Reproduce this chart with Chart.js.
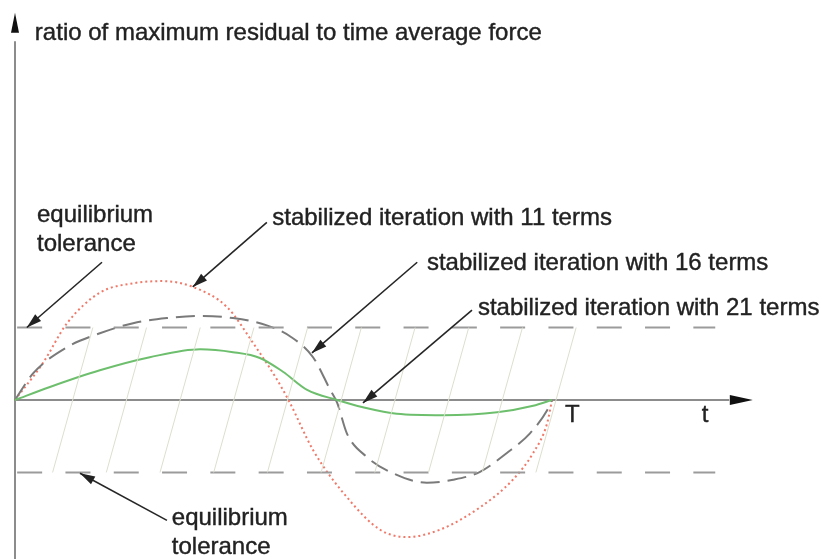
<!DOCTYPE html>
<html>
<head>
<meta charset="utf-8">
<script src="https://cdn.jsdelivr.net/npm/chart.js@4/dist/chart.umd.min.js"></script>
<style>
  html, body { margin: 0; padding: 0; background: #fff; }
  #chart { display: block; }
</style>
</head>
<body>
<canvas id="chart" width="822" height="559"></canvas>
<script>
// time in units of T, residual ratio in units of the equilibrium tolerance
const terms11X = [0, 0.052, 0.097, 0.158, 0.220, 0.276, 0.331, 0.395, 0.443, 0.488, 0.512, 0.555, 0.618, 0.680, 0.730, 0.791, 0.866, 0.927, 0.965, 0.991, 1.0];
const terms11Y = [0, 0.51, 1.06, 1.48, 1.61, 1.64, 1.56, 1.28, 0.79, 0.28, -0.04, -0.69, -1.34, -1.79, -1.89, -1.79, -1.48, -1.10, -0.73, -0.32, 0];

const terms16X = [0, 0.034, 0.097, 0.158, 0.220, 0.283, 0.345, 0.406, 0.469, 0.512, 0.555, 0.587, 0.600, 0.618, 0.656, 0.698, 0.767, 0.816, 0.866, 0.916, 0.959, 0.991, 1.0];
const terms16Y = [0, 0.37, 0.73, 0.92, 1.06, 1.13, 1.16, 1.13, 1.03, 0.88, 0.59, 0.14, -0.04, -0.46, -0.79, -0.99, -1.14, -1.10, -0.99, -0.73, -0.46, -0.14, 0];

const terms21X = [0, 0.065, 0.158, 0.251, 0.345, 0.406, 0.456, 0.499, 0.544, 0.600, 0.648, 0.711, 0.797, 0.898, 0.965, 1.0];
const terms21Y = [0, 0.18, 0.41, 0.59, 0.70, 0.66, 0.58, 0.39, 0.14, 0, -0.10, -0.19, -0.21, -0.17, -0.08, 0];

const tolerance = 1;
const toleranceEnd = 1.304;
const hatchX = [0.07, 0.17, 0.27, 0.37, 0.47, 0.57, 0.67, 0.77, 0.87, 0.97];
const hatchSlant = 0.075;

const titleLabel = 'ratio of maximum residual to time average force';
const seriesLabels = ['stabilized iteration with 11 terms', 'stabilized iteration with 16 terms', 'stabilized iteration with 21 terms'];
const toleranceLabel = ['equilibrium', 'tolerance'];
const axisLabels = ['T', 't'];

function toPoints(xs, ys) {
    return xs.map((x, i) => ({ x: x, y: ys[i] }));
}

const datasets = [];

// hatching inside the tolerance band
hatchX.forEach(function (x) {
    datasets.push({
        data: [{ x: x, y: -tolerance }, { x: x + hatchSlant, y: tolerance }],
        borderColor: '#dcdfcd',
        borderWidth: 1,
        pointRadius: 0,
        tension: 0
    });
});

[tolerance, -tolerance].forEach(function (y) {
    datasets.push({
        data: [{ x: 0.004, y: y }, { x: toleranceEnd, y: y }],
        borderColor: '#9b9b9b',
        borderWidth: 2,
        borderDash: [25, 23.3],
        pointRadius: 0,
        tension: 0
    });
});

datasets.push({
    label: seriesLabels[2],
    data: toPoints(terms21X, terms21Y),
    borderColor: '#6dbf6d',
    borderWidth: 2,
    pointRadius: 0,
    cubicInterpolationMode: 'monotone'
});
datasets.push({
    label: seriesLabels[1],
    data: toPoints(terms16X, terms16Y),
    borderColor: '#7a7a7a',
    borderWidth: 2,
    borderDash: [19, 8],
    pointRadius: 0,
    cubicInterpolationMode: 'monotone'
});
datasets.push({
    label: seriesLabels[0],
    data: toPoints(terms11X, terms11Y),
    borderColor: '#f07a6a',
    borderWidth: 2,
    borderDash: [2, 3],
    pointRadius: 0,
    cubicInterpolationMode: 'monotone'
});

function arrowHead(ctx, x1, y1, x2, y2, len, half) {
    const a = Math.atan2(y2 - y1, x2 - x1);
    ctx.beginPath();
    ctx.moveTo(x2, y2);
    ctx.lineTo(x2 - len * Math.cos(a) + half * Math.sin(a), y2 - len * Math.sin(a) - half * Math.cos(a));
    ctx.lineTo(x2 - len * Math.cos(a) - half * Math.sin(a), y2 - len * Math.sin(a) + half * Math.cos(a));
    ctx.closePath();
    ctx.fill();
}

// annotation arrows: [from x, from y, to x, to y] in data units
const notes = [
    { text: toleranceLabel, at: [0.041, 2.45], from: [0.162, 1.90], to: [0.022, 1.0] },
    { text: [seriesLabels[0]], at: [0.479, 2.42], from: [0.469, 2.45], to: [0.331, 1.56] },
    { text: [seriesLabels[1]], at: [0.767, 1.79], from: [0.749, 1.90], to: [0.553, 0.65] },
    { text: [seriesLabels[2]], at: [0.862, 1.17], from: [0.851, 1.24], to: [0.648, -0.04] },
    { text: toleranceLabel, at: [0.292, -1.73], from: [0.283, -1.66], to: [0.121, -1.01] }
];

const drawPlugin = {
    id: 'sketch',
    beforeDatasetsDraw(chart) {
        const ctx = chart.ctx;
        const xs = chart.scales.x, ys = chart.scales.y;
        const x0 = xs.getPixelForValue(0), y0 = ys.getPixelForValue(0);
        ctx.save();
        ctx.strokeStyle = '#8c8c8c';
        ctx.lineWidth = 2;
        ctx.beginPath();
        ctx.moveTo(x0, ys.getPixelForValue(ys.min));
        ctx.lineTo(x0, ys.getPixelForValue(4.95));
        ctx.moveTo(x0, y0);
        ctx.lineTo(xs.getPixelForValue(1.33), y0);
        ctx.stroke();
        ctx.fillStyle = '#111';
        arrowHead(ctx, x0, y0, xs.getPixelForValue(1.374), y0, 23, 5);
        arrowHead(ctx, x0, y0, x0, ys.getPixelForValue(5.34), 20, 4);
        ctx.restore();
    },
    afterDatasetsDraw(chart) {
        const ctx = chart.ctx;
        const xs = chart.scales.x, ys = chart.scales.y;
        const px = v => xs.getPixelForValue(v), py = v => ys.getPixelForValue(v);
        ctx.save();
        ctx.font = '24px "Liberation Sans", Arial, sans-serif';
        ctx.fillStyle = '#222';
        ctx.strokeStyle = '#222';
        ctx.lineWidth = 0.4;
        ctx.textBaseline = 'alphabetic';
        ctx.textAlign = 'left';
        const label = function (s, x, y) {
            ctx.fillText(s, x, y);
            ctx.strokeText(s, x, y);
        };
        label(titleLabel, px(0.037), py(4.97));
        label(axisLabels[0], px(1.024), py(-0.30));
        label(axisLabels[1], px(1.279), py(-0.30));
        notes.forEach(function (n) {
            n.text.forEach(function (line, i) {
                label(line, px(n.at[0]), py(n.at[1]) + i * 29);
            });
            ctx.save();
            ctx.strokeStyle = '#262626';
            ctx.lineWidth = 1.6;
            ctx.beginPath();
            ctx.moveTo(px(n.from[0]), py(n.from[1]));
            ctx.lineTo(px(n.to[0]), py(n.to[1]));
            ctx.stroke();
            arrowHead(ctx, px(n.from[0]), py(n.from[1]), px(n.to[0]), py(n.to[1]), 15, 4.5);
            ctx.restore();
        });
        ctx.restore();
    }
};

new Chart(document.getElementById('chart'), {
    type: 'line',
    data: { datasets: datasets },
    options: {
        responsive: false,
        animation: false,
        clip: false,
        layout: { padding: 0 },
        plugins: { legend: { display: false }, tooltip: { enabled: false } },
        scales: {
            x: { type: 'linear', display: false, min: -15 / 537, max: 807 / 537 },
            y: { type: 'linear', display: false, min: -159 / 72.5, max: 400 / 72.5 }
        }
    },
    plugins: [drawPlugin]
});
</script>
</body>
</html>
